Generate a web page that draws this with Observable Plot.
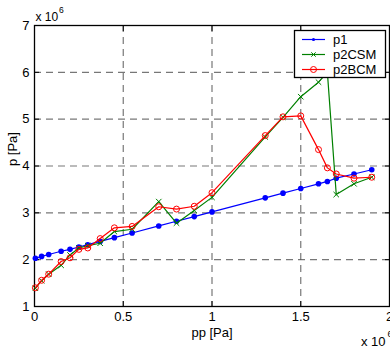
<!DOCTYPE html>
<html>
<head>
<meta charset="utf-8">
<script src="https://cdn.jsdelivr.net/npm/d3@7"></script>
<script src="https://cdn.jsdelivr.net/npm/@observablehq/plot@0.6"></script>
<style>
  html, body { margin: 0; padding: 0; background: #fff; }
  #chart { position: relative; width: 390px; height: 350px; overflow: hidden; }
</style>
</head>
<body>
<div id="chart"></div>
<script>
// pp [Pa]
const pp = [5e3, 4e4, 8e4, 1.5e5, 2e5, 2.5e5, 3e5, 3.7e5, 4.5e5, 5.5e5, 7e5, 8e5, 9e5, 1.0e6, 1.3e6, 1.4e6, 1.5e6, 1.6e6, 1.65e6, 1.7e6, 1.8e6, 1.9e6];
// p [Pa] series
const p1    = [2.03e6, 2.07e6, 2.11e6, 2.18e6, 2.22e6, 2.27e6, 2.32e6, 2.39e6, 2.47e6, 2.57e6, 2.72e6, 2.82e6, 2.92e6, 3.02e6, 3.32e6, 3.42e6, 3.52e6, 3.62e6, 3.67e6, 3.74e6, 3.83e6, 3.92e6];
const p2CSM = [1.39e6, 1.55e6, 1.69e6, 1.88e6, 2.10e6, 2.25e6, 2.30e6, 2.35e6, 2.60e6, 2.65e6, 3.24e6, 2.78e6, 3.05e6, 3.33e6, 4.62e6, 5.04e6, 5.48e6, 5.79e6, 6.00e6, 3.39e6, 3.62e6, 3.76e6];
const p2BCM = [1.40e6, 1.56e6, 1.69e6, 1.96e6, 2.04e6, 2.22e6, 2.25e6, 2.45e6, 2.68e6, 2.71e6, 3.13e6, 3.08e6, 3.14e6, 3.43e6, 4.65e6, 5.05e6, 5.07e6, 4.35e6, 3.96e6, 3.83e6, 3.74e6, 3.76e6];

const seriesNames = ["p1", "p2CSM", "p2BCM"];
const seriesColors = ["#0000ff", "#008000", "#ff0000"];

const xTicks = [0, 5e5, 1e6, 1.5e6, 2e6];
const xTickLabels = ["0", "0.5", "1", "1.5", "2"];
const yTicks = [1e6, 2e6, 3e6, 4e6, 5e6, 6e6, 7e6];
const yTickLabels = ["1", "2", "3", "4", "5", "6", "7"];

const rows = (ys, name) => pp.map((x, i) => ({x, y: ys[i], s: name}));
const d1 = rows(p1, "p1"), d2 = rows(p2CSM, "p2CSM"), d3b = rows(p2BCM, "p2BCM");

const font = "'Liberation Sans', Arial, Helvetica, sans-serif";

const chart = Plot.plot({
  width: 390,
  height: 350,
  marginLeft: 34,
  marginRight: 1,
  marginTop: 25,
  marginBottom: 44,
  style: {fontFamily: font, fontSize: "13px", background: "white", color: "black", overflow: "visible"},
  x: {domain: [0, 2e6], label: null},
  y: {domain: [1e6, 7e6], label: null},
  marks: [
    Plot.gridX(xTicks.slice(1, -1), {stroke: "#555", strokeOpacity: 0.8, strokeWidth: 1.2, strokeDasharray: "7,5"}),
    Plot.gridY(yTicks.slice(1, -1), {stroke: "#555", strokeOpacity: 0.8, strokeWidth: 1.2, strokeDasharray: "7,5"}),
    Plot.axisX(xTicks, {anchor: "bottom", tickSize: 0, tickPadding: 5, tickFormat: (d) => xTickLabels[xTicks.indexOf(d)], fontSize: 13, label: null}),
    Plot.axisY(yTicks, {anchor: "left", tickSize: 0, tickPadding: 5, tickFormat: (d) => yTickLabels[yTicks.indexOf(d)], fontSize: 13, label: null}),
    Plot.axisX(xTicks, {anchor: "bottom", tickSize: -5, tickFormat: () => "", label: null}),
    Plot.axisX(xTicks, {anchor: "top", tickSize: -5, tickFormat: () => "", label: null}),
    Plot.axisY(yTicks, {anchor: "left", tickSize: -5, tickFormat: () => "", label: null}),
    Plot.axisY(yTicks, {anchor: "right", tickSize: -5, tickFormat: () => "", label: null}),
    Plot.frame({stroke: "black", strokeWidth: 1.3}),
    // series
    Plot.line(d1, {x: "x", y: "y", stroke: seriesColors[0], strokeWidth: 1.2}),
    Plot.dot(d1, {x: "x", y: "y", fill: seriesColors[0], r: 2.8, stroke: "none"}),
    Plot.line(d2, {x: "x", y: "y", stroke: seriesColors[1], strokeWidth: 1.2}),
    Plot.dot(d2, {x: "x", y: "y", symbol: "times", stroke: seriesColors[1], r: 2.6, strokeWidth: 1}),
    Plot.line(d3b, {x: "x", y: "y", stroke: seriesColors[2], strokeWidth: 1.2}),
    Plot.dot(d3b, {x: "x", y: "y", stroke: seriesColors[2], fill: "none", r: 3, strokeWidth: 1}),
    // labels
    Plot.text(["p [Pa]"], {frameAnchor: "left", lineAnchor: "middle", rotate: -90, dx: -22, fontSize: 13, fill: "black"}),
    Plot.text(["pp [Pa]"], {frameAnchor: "bottom", lineAnchor: "middle", dy: 26, fontSize: 13, fill: "black"}),
    Plot.text(["x 10"], {frameAnchor: "top-left", lineAnchor: "middle", textAnchor: "start", dx: 1, dy: -8, fontSize: 12, fill: "black"}),
    Plot.text(["6"], {frameAnchor: "top-left", lineAnchor: "middle", textAnchor: "start", dx: 24.5, dy: -15, fontSize: 8.5, fill: "black"}),
    Plot.text(["x 10"], {frameAnchor: "bottom-right", lineAnchor: "middle", textAnchor: "end", dx: -4, dy: 35, fontSize: 13, fill: "black"}),
    Plot.text(["6"], {frameAnchor: "bottom-right", lineAnchor: "middle", textAnchor: "start", dx: -2, dy: 28, fontSize: 9, fill: "black"})
  ]
});

document.getElementById("chart").appendChild(chart);

// Legend (inside the axes, top-right), drawn into the plot's SVG
const svg = d3.select(chart);
const lg = svg.append("g").attr("font-family", font).attr("font-size", 13).attr("text-anchor", "start");
lg.append("rect").attr("x", 294.5).attr("y", 30.5).attr("width", 91).attr("height", 47)
  .attr("fill", "white").attr("stroke", "black").attr("stroke-width", 1.3);
const rowY = [39.5, 54.5, 69.5];
seriesNames.forEach((name, i) => {
  const y = rowY[i];
  const c = seriesColors[i];
  lg.append("line").attr("x1", 302).attr("x2", 325).attr("y1", y).attr("y2", y).attr("stroke", c).attr("stroke-width", 1.2);
  if (i === 0) lg.append("circle").attr("cx", 313.5).attr("cy", y).attr("r", 1.6).attr("fill", c);
  if (i === 1) lg.append("path").attr("d", `M${313.5-2.2},${y-2.2}L${313.5+2.2},${y+2.2}M${313.5-2.2},${y+2.2}L${313.5+2.2},${y-2.2}`).attr("stroke", c).attr("stroke-width", 1);
  if (i === 2) lg.append("circle").attr("cx", 313.5).attr("cy", y).attr("r", 3).attr("fill", "none").attr("stroke", c).attr("stroke-width", 1);
  lg.append("text").attr("x", 333).attr("y", y).attr("dy", "0.35em").attr("text-anchor", "start").attr("fill", "black").text(name);
});
</script>
</body>
</html>
